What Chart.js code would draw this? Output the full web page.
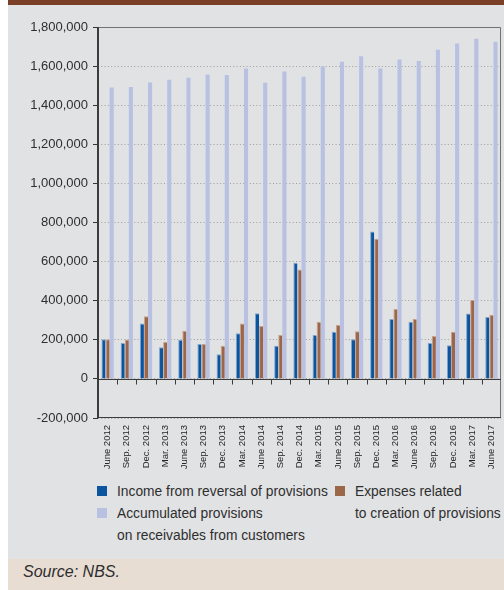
<!DOCTYPE html>
<html>
<head>
<meta charset="utf-8">
<script src="https://cdn.jsdelivr.net/npm/chart.js@4/dist/chart.umd.min.js"></script>
<style>
  html, body { margin: 0; padding: 0; background: #ffffff; }
  #frame { position: relative; width: 504px; height: 590px; overflow: hidden; }
  #topband { position: absolute; left: 8px; top: 0; width: 496px; height: 5px; background: #7b3e27; }
  #panel { position: absolute; left: 8px; top: 5px; width: 496px; height: 554px; background: #e1e2e4; }
  #source { position: absolute; left: 8px; top: 559px; width: 496px; height: 31px; background: #e8ddd3; }
  #source span { position: absolute; left: 15px; top: 4px; line-height: 16px;
    font: italic 16px 'Liberation Sans', Arial, sans-serif; color: #2e2e2e; }
  #chartbox { position: absolute; left: 0; top: 0; width: 504px; height: 480px; }
  #legend { position: absolute; left: 97px; top: 480.5px; display: grid;
    grid-template-columns: 238px auto; grid-template-rows: 22px 22px 22px;
    font: 13.8px 'Liberation Sans', Arial, sans-serif; color: #2e2e2e; line-height: 22px; }
  .item { position: relative; padding-left: 20px; white-space: pre-line; }
  .item i { position: absolute; left: 0; top: 5.5px; width: 10px; height: 10px; }
</style>
</head>
<body>
<div id="frame">
  <div id="topband"></div>
  <div id="panel"></div>
  <div id="source"><span>Source: NBS.</span></div>
  <div id="chartbox"><canvas id="chart" width="504" height="480"></canvas></div>
  <div id="legend"></div>
</div>
<script>
// Quarter-end dates
const categories = ['June 2012', 'Sep. 2012', 'Dec. 2012', 'Mar. 2013', 'June 2013', 'Sep. 2013',
  'Dec. 2013', 'Mar. 2014', 'June 2014', 'Sep. 2014', 'Dec. 2014', 'Mar. 2015', 'June 2015',
  'Sep. 2015', 'Dec. 2015', 'Mar. 2016', 'June 2016', 'Sep. 2016', 'Dec. 2016', 'Mar. 2017', 'June 2017'];

// Income from reversal of provisions
const incomeReversal = [203000, 184000, 283000, 162000, 200000, 178000, 126000, 234000, 336000,
  169000, 594000, 224000, 241000, 203000, 754000, 307000, 292000, 183000, 172000, 334000, 316000];

// Expenses related to creation of provisions
const expensesCreation = [203000, 201000, 321000, 189000, 246000, 179000, 170000, 283000, 271000,
  225000, 559000, 292000, 276000, 244000, 717000, 357000, 307000, 220000, 241000, 403000, 328000];

// Accumulated provisions on receivables from customers
const accumulatedProvisions = [1490000, 1493000, 1516000, 1530000, 1540000, 1557000, 1554000,
  1588000, 1515000, 1573000, 1546000, 1598000, 1622000, 1650000, 1588000, 1634000, 1626000,
  1684000, 1716000, 1740000, 1725000];

// Value axis range and step
const yMin = -200000;
const yMax = 1800000;
const yStep = 200000;

const labelFont = "'Liberation Sans', Arial, sans-serif";

// Plot frame, zero line with category tick marks, and the value axis line
const frameAndZeroLine = {
  id: 'frameAndZeroLine',
  afterDatasetsDraw(chart) {
    const { ctx, chartArea: a, scales: { x, y } } = chart;
    const y0 = Math.round(y.getPixelForValue(0)) + 0.5;
    ctx.save();
    ctx.lineWidth = 1;
    ctx.strokeStyle = '#727272';
    ctx.beginPath();
    ctx.moveTo(a.left, Math.round(a.top) + 0.5);
    ctx.lineTo(Math.round(a.right) - 0.5, Math.round(a.top) + 0.5);
    ctx.lineTo(Math.round(a.right) - 0.5, Math.round(a.bottom) - 0.5);
    ctx.stroke();
    ctx.strokeStyle = '#3c3c3c';
    ctx.beginPath();
    ctx.moveTo(a.left, Math.round(a.bottom) - 0.5);
    ctx.lineTo(Math.round(a.right), Math.round(a.bottom) - 0.5);
    ctx.moveTo(a.left, y0);
    ctx.lineTo(Math.round(a.right), y0);
    for (let i = 1; i < x.ticks.length; i++) {
      const px = Math.round((x.getPixelForTick(i - 1) + x.getPixelForTick(i)) / 2) + 0.5;
      ctx.moveTo(px, y0);
      ctx.lineTo(px, y0 + 5);
    }
    ctx.stroke();
    ctx.lineWidth = 2;
    ctx.beginPath();
    ctx.moveTo(Math.round(a.left), a.top);
    ctx.lineTo(Math.round(a.left), a.bottom);
    ctx.stroke();
    ctx.restore();
  }
};

const chart = new Chart(document.getElementById('chart'), {
  type: 'bar',
  data: {
    labels: categories,
    datasets: [
      { label: 'Income from reversal of provisions', data: incomeReversal,
        backgroundColor: '#0b55a0', borderColor: '#7fa6d2',
        borderWidth: { top: 1, left: 1, right: 0, bottom: 0 }, borderSkipped: false },
      { label: 'Expenses related\nto creation of provisions', data: expensesCreation,
        backgroundColor: '#9c6649', borderColor: '#c7a38d',
        borderWidth: { top: 1, left: 1, right: 0, bottom: 0 }, borderSkipped: false },
      { label: 'Accumulated provisions\non receivables from customers', data: accumulatedProvisions,
        backgroundColor: '#b8c1e2', borderWidth: 0 }
    ]
  },
  options: {
    responsive: false,
    animation: false,
    events: [],
    layout: { padding: { left: 0, right: 3, top: 27, bottom: 0 } },
    datasets: { bar: { categoryPercentage: 0.64, barPercentage: 1.0 } },
    plugins: { legend: { display: false }, tooltip: { enabled: false } },
    scales: {
      x: {
        grid: { display: false, drawTicks: false },
        border: { display: false },
        ticks: { autoSkip: false, maxRotation: 90, minRotation: 90, padding: 7,
          color: '#262626', font: { family: labelFont, size: 9.5 } },
        afterFit(scale) {
          scale.height = 62;
          scale.paddingLeft = 0;
          scale.paddingRight = 0;
        }
      },
      y: {
        min: yMin, max: yMax,
        grid: { color: '#9d9d9d', lineWidth: 1, tickLength: 5, tickColor: '#333333',
          tickWidth: 1, tickBorderDash: [] },
        border: { display: false, dash: [1, 2.3] },
        ticks: { stepSize: yStep, padding: 5, color: '#2e2e2e',
          font: { family: labelFont, size: 13 },
          callback: (v) => Number(v).toLocaleString('en-US') },
        afterFit(scale) { scale.width = 98; }
      }
    }
  },
  plugins: [frameAndZeroLine]
});

// Legend built from the chart's datasets: left column, right column, left column below
const legendSlots = [
  { col: 1, row: '1' },
  { col: 2, row: '1 / span 2' },
  { col: 1, row: '2 / span 2' }
];
const legend = document.getElementById('legend');
chart.data.datasets.forEach((ds, i) => {
  const item = document.createElement('div');
  item.className = 'item';
  item.style.gridColumn = legendSlots[i].col;
  item.style.gridRow = legendSlots[i].row;
  const sw = document.createElement('i');
  sw.style.background = ds.backgroundColor;
  item.appendChild(sw);
  item.appendChild(document.createTextNode(ds.label));
  legend.appendChild(item);
});
</script>
</body>
</html>
